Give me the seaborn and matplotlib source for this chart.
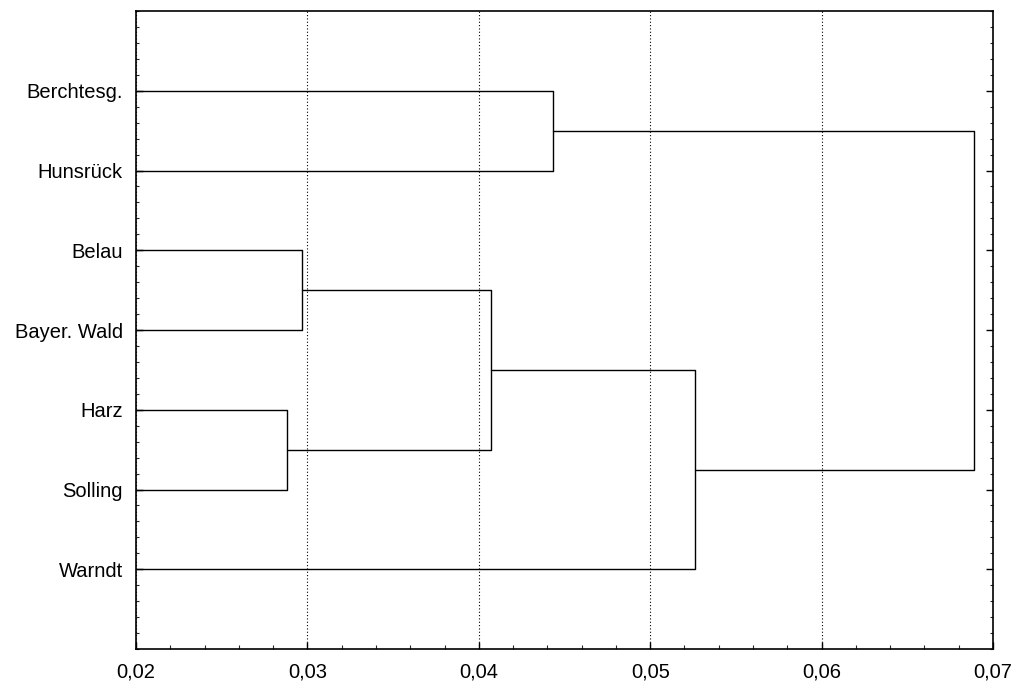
import numpy as np
import pandas as pd
import matplotlib
matplotlib.use("Agg")
import matplotlib.pyplot as plt
from matplotlib.ticker import MultipleLocator, FuncFormatter, AutoMinorLocator
import seaborn as sns

# Leaves, top to bottom
labels = ["Berchtesg.", "Hunsrück", "Belau", "Bayer. Wald", "Harz", "Solling", "Warndt"]
# Merges (child a, child b, linkage distance); new clusters get ids 7, 8, ...
merge_a = [4, 2, 7, 0, 9, 10]
merge_b = [5, 3, 8, 1, 6, 11]
merge_h = [0.0288, 0.0297, 0.0407, 0.0443, 0.0526, 0.0689]

x_ticks = [0.02, 0.03, 0.04, 0.05, 0.06, 0.07]

# Build dendrogram segments from the linkage data
ypos = {i: i + 1 for i in range(len(labels))}
hgt = {i: 0.0 for i in range(len(labels))}
rows = []
for k, (a, b, h) in enumerate(zip(merge_a, merge_b, merge_h)):
    nid = len(labels) + k
    pts = [(hgt[a], ypos[a]), (h, ypos[a]), (h, ypos[b]), (hgt[b], ypos[b])]
    for j, (xx, yy) in enumerate(pts):
        rows.append({"seg": k, "order": j, "dist": xx, "pos": yy})
    ypos[nid] = (ypos[a] + ypos[b]) / 2
    hgt[nid] = h
df = pd.DataFrame(rows)

sns.set_style("white")
plt.rcParams["font.family"] = ["Liberation Sans", "DejaVu Sans"]

fig = plt.figure(figsize=(10.14, 6.82), dpi=100)
ax = fig.add_axes([136 / 1014, 1 - 649 / 682, (993 - 136) / 1014, (649 - 11) / 682])

sns.lineplot(data=df, x="dist", y="pos", units="seg", estimator=None, sort=False,
             color="black", linewidth=1.0, ax=ax, legend=False)

ax.set_xlim(x_ticks[0], x_ticks[-1])
ax.set_ylim(8, 0)
ax.set_xlabel("")
ax.set_ylabel("")

ax.set_xticks(x_ticks)
ax.xaxis.set_minor_locator(AutoMinorLocator(5))
ax.xaxis.set_major_formatter(FuncFormatter(lambda v, p: f"{v:.2f}".replace(".", ",")))
ax.set_yticks(range(1, len(labels) + 1))
ax.set_yticklabels(labels)
ax.yaxis.set_minor_locator(AutoMinorLocator(5))

ax.grid(True, axis="x", which="major", linestyle=(0, (1, 2)), color="black", linewidth=0.8)
ax.grid(False, axis="y")

for s in ax.spines.values():
    s.set_visible(True)
    s.set_color("black")
    s.set_linewidth(1.2)

ax.tick_params(axis="x", which="major", direction="in", length=5, width=1, colors="black",
               labelsize=14.5, pad=10, bottom=True, top=False)
ax.tick_params(axis="x", which="minor", direction="in", length=3, width=0.8, bottom=True, top=False)
ax.tick_params(axis="y", which="major", direction="in", length=5, width=1, colors="black",
               labelsize=14.5, pad=9.4, left=True, right=True)
ax.tick_params(axis="y", which="minor", direction="in", length=2.5, width=0.8, left=True, right=True)

fig.savefig("out.png", dpi=100)
